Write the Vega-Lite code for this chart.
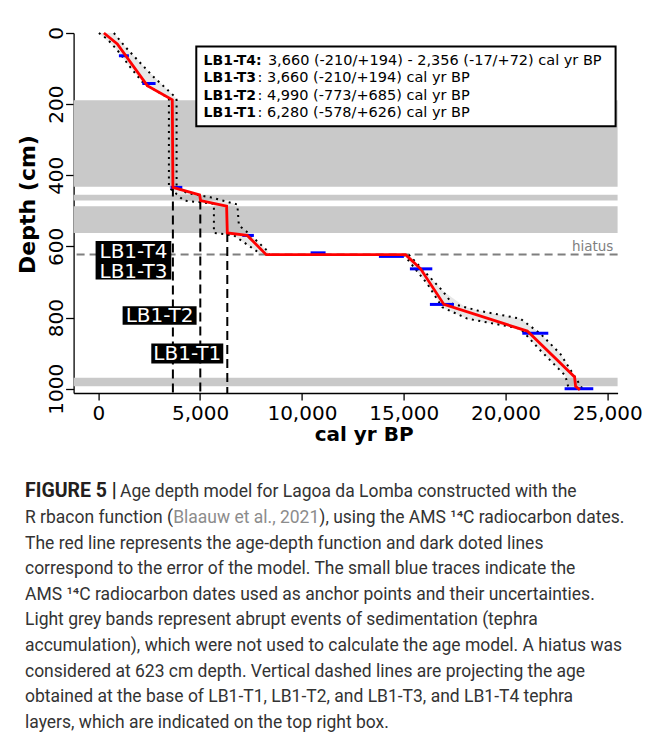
{
  "$schema": "https://vega.github.io/schema/vega-lite/v6.json",
  "background": "white",
  "padding": {"left": 16.6, "top": 26, "right": 0, "bottom": 0},
  "spacing": 32.5,
  "datasets": {
    "bands": [
      {"depth": 189, "depth2": 432},
      {"depth": 455, "depth2": 471},
      {"depth": 487, "depth2": 562},
      {"depth": 969, "depth2": 993}
    ],
    "envelope": [
      {"part": "upper", "depth": 0, "lo": 29, "hi": 766},
      {"part": "upper", "depth": 40, "lo": 806, "hi": 1341},
      {"part": "upper", "depth": 97, "lo": 1586, "hi": 2275},
      {"part": "upper", "depth": 143, "lo": 2240, "hi": 3084},
      {"part": "upper", "depth": 183, "lo": 3468, "hi": 3811},
      {"part": "upper", "depth": 434, "lo": 3468, "hi": 3846},
      {"part": "upper", "depth": 450, "lo": 3786, "hi": 4371},
      {"part": "upper", "depth": 471, "lo": 4204, "hi": 6106},
      {"part": "upper", "depth": 480, "lo": 5678, "hi": 6696},
      {"part": "upper", "depth": 541, "lo": 5678, "hi": 6906},
      {"part": "upper", "depth": 562, "lo": 5678, "hi": 7350},
      {"part": "upper", "depth": 569, "lo": 6660, "hi": 7488},
      {"part": "upper", "depth": 612, "lo": 7748, "hi": 8301},
      {"part": "upper", "depth": 621, "lo": 7976, "hi": 8390},
      {"part": "lower", "depth": 623, "lo": 15000, "hi": 15250},
      {"part": "lower", "depth": 682, "lo": 15830, "hi": 16211},
      {"part": "lower", "depth": 724, "lo": 16371, "hi": 16896},
      {"part": "lower", "depth": 771, "lo": 16896, "hi": 18033},
      {"part": "lower", "depth": 780, "lo": 17241, "hi": 18615},
      {"part": "lower", "depth": 803, "lo": 18124, "hi": 20727},
      {"part": "lower", "depth": 831, "lo": 20727, "hi": 21382},
      {"part": "lower", "depth": 845, "lo": 20952, "hi": 21709},
      {"part": "lower", "depth": 892, "lo": 21709, "hi": 22520},
      {"part": "lower", "depth": 902, "lo": 21882, "hi": 22692},
      {"part": "lower", "depth": 963, "lo": 22937, "hi": 23369},
      {"part": "lower", "depth": 998, "lo": 23099, "hi": 23758}
    ],
    "model": [
      {"series": "mean", "i": 0, "age": 275, "depth": 0},
      {"series": "mean", "i": 1, "age": 933, "depth": 31},
      {"series": "mean", "i": 2, "age": 2407, "depth": 148},
      {"series": "mean", "i": 3, "age": 3635, "depth": 188},
      {"series": "mean", "i": 4, "age": 3664, "depth": 434},
      {"series": "mean", "i": 5, "age": 4975, "depth": 455},
      {"series": "mean", "i": 6, "age": 5025, "depth": 471},
      {"series": "mean", "i": 7, "age": 6302, "depth": 487},
      {"series": "mean", "i": 8, "age": 6336, "depth": 562},
      {"series": "mean", "i": 9, "age": 7318, "depth": 569},
      {"series": "mean", "i": 10, "age": 8251, "depth": 623},
      {"series": "mean", "i": 11, "age": 15093, "depth": 623},
      {"series": "mean", "i": 12, "age": 15830, "depth": 663},
      {"series": "mean", "i": 13, "age": 16974, "depth": 763},
      {"series": "mean", "i": 14, "age": 21071, "depth": 838},
      {"series": "mean", "i": 15, "age": 23394, "depth": 967},
      {"series": "mean", "i": 16, "age": 23443, "depth": 993},
      {"series": "mean", "i": 17, "age": 23654, "depth": 1003},
      {"series": "min1", "i": 0, "age": 29, "depth": 0},
      {"series": "min1", "i": 1, "age": 442, "depth": 17},
      {"series": "min1", "i": 2, "age": 933, "depth": 48},
      {"series": "min1", "i": 3, "age": 1586, "depth": 97},
      {"series": "min1", "i": 4, "age": 2240, "depth": 143},
      {"series": "min1", "i": 5, "age": 3468, "depth": 183},
      {"series": "min1", "i": 6, "age": 3468, "depth": 434},
      {"series": "min1", "i": 7, "age": 4204, "depth": 471},
      {"series": "min1", "i": 8, "age": 5678, "depth": 480},
      {"series": "min1", "i": 9, "age": 5678, "depth": 562},
      {"series": "min1", "i": 10, "age": 6660, "depth": 569},
      {"series": "min1", "i": 11, "age": 7976, "depth": 621},
      {"series": "max1", "i": 0, "age": 766, "depth": 0},
      {"series": "max1", "i": 1, "age": 1341, "depth": 40},
      {"series": "max1", "i": 2, "age": 2652, "depth": 120},
      {"series": "max1", "i": 3, "age": 3797, "depth": 181},
      {"series": "max1", "i": 4, "age": 3846, "depth": 188},
      {"series": "max1", "i": 5, "age": 3846, "depth": 434},
      {"series": "max1", "i": 6, "age": 4371, "depth": 450},
      {"series": "max1", "i": 7, "age": 5516, "depth": 462},
      {"series": "max1", "i": 8, "age": 6827, "depth": 482},
      {"series": "max1", "i": 9, "age": 6906, "depth": 541},
      {"series": "max1", "i": 10, "age": 7318, "depth": 560},
      {"series": "max1", "i": 11, "age": 8301, "depth": 612},
      {"series": "max1", "i": 12, "age": 8400, "depth": 623},
      {"series": "min2", "i": 0, "age": 15000, "depth": 623},
      {"series": "min2", "i": 1, "age": 15830, "depth": 682},
      {"series": "min2", "i": 2, "age": 16159, "depth": 705},
      {"series": "min2", "i": 3, "age": 16896, "depth": 771},
      {"series": "min2", "i": 4, "age": 18124, "depth": 803},
      {"series": "min2", "i": 5, "age": 20727, "depth": 831},
      {"series": "min2", "i": 6, "age": 21709, "depth": 892},
      {"series": "min2", "i": 7, "age": 22937, "depth": 963},
      {"series": "min2", "i": 8, "age": 23099, "depth": 998},
      {"series": "max2", "i": 0, "age": 15250, "depth": 623},
      {"series": "max2", "i": 1, "age": 16896, "depth": 724},
      {"series": "max2", "i": 2, "age": 17387, "depth": 761},
      {"series": "max2", "i": 3, "age": 18615, "depth": 780},
      {"series": "max2", "i": 4, "age": 20727, "depth": 803},
      {"series": "max2", "i": 5, "age": 21709, "depth": 845},
      {"series": "max2", "i": 6, "age": 22692, "depth": 902},
      {"series": "max2", "i": 7, "age": 23758, "depth": 998}
    ],
    "dates": [
      {"age": 1012, "age2": 1503, "depth": 64},
      {"age": 2161, "age2": 2814, "depth": 142},
      {"age": 3551, "age2": 4126, "depth": 434},
      {"age": 7073, "age2": 7642, "depth": 569},
      {"age": 10427, "age2": 11164, "depth": 618},
      {"age": 13782, "age2": 15010, "depth": 628},
      {"age": 15305, "age2": 16405, "depth": 663},
      {"age": 16287, "age2": 17466, "depth": 763},
      {"age": 20825, "age2": 22102, "depth": 844},
      {"age": 22903, "age2": 24312, "depth": 1000}
    ],
    "tephra": [
      {"name": "LB1-T4/T3", "age": 3664, "depth": 434, "depth2": 1012},
      {"name": "LB1-T2", "age": 5010, "depth": 471, "depth2": 1012},
      {"name": "LB1-T1", "age": 6336, "depth": 562, "depth2": 1012}
    ],
    "tephraBoxes": [
      {"age": -133, "age2": 3585, "depth": 585, "depth2": 693},
      {"age": 1194, "age2": 4828, "depth": 768, "depth2": 820},
      {"age": 2603, "age2": 6139, "depth": 873, "depth2": 929}
    ],
    "tephraLabels": [
      {"age": 1726, "depth": 617, "text": "LB1-T4"},
      {"age": 1726, "depth": 671, "text": "LB1-T3"},
      {"age": 3011, "depth": 795, "text": "LB1-T2"},
      {"age": 4371, "depth": 902, "text": "LB1-T1"}
    ],
    "legendBox": [
      {"age": 4813, "age2": 25408, "depth": 37.6, "depth2": 262.4}
    ],
    "legendKeys": [
      {"age": 5172, "depth": 89, "text": "LB1-T4:"},
      {"age": 5172, "depth": 138.8, "text": "LB1-T3"},
      {"age": 5172, "depth": 187.4, "text": "LB1-T2"},
      {"age": 5172, "depth": 236, "text": "LB1-T1"}
    ],
    "legendValues": [
      {"age": 8330, "depth": 89, "text": "3,660 (-210/+194) - 2,356 (-17/+72) cal yr BP"},
      {"age": 7820, "depth": 138.8, "text": ": 3,660 (-210/+194) cal yr BP"},
      {"age": 7820, "depth": 187.4, "text": ": 4,990 (-773/+685) cal yr BP"},
      {"age": 7820, "depth": 236, "text": ": 6,280 (-578/+626) cal yr BP"}
    ],
    "hiatus": [
      {"age": 25295, "depth": 623, "labelDepth": 613.5, "text": "hiatus"}
    ],
    "caption": [
      {"part": "label", "line": 0, "text": "FIGURE 5 |"},
      {"part": "lead", "line": 0, "text": "Age depth model for Lagoa da Lomba constructed with the"},
      {"part": "body", "line": 1, "text": "R rbacon function ("},
      {"part": "citation", "line": 1, "text": "Blaauw et al., 2021"},
      {"part": "after", "line": 1, "text": "), using the AMS ¹⁴C radiocarbon dates."},
      {"part": "body", "line": 2, "text": "The red line represents the age-depth function and dark doted lines"},
      {"part": "body", "line": 3, "text": "correspond to the error of the model. The small blue traces indicate the"},
      {"part": "body", "line": 4, "text": "AMS ¹⁴C radiocarbon dates used as anchor points and their uncertainties."},
      {"part": "body", "line": 5, "text": "Light grey bands represent abrupt events of sedimentation (tephra"},
      {"part": "body", "line": 6, "text": "accumulation), which were not used to calculate the age model. A hiatus was"},
      {"part": "body", "line": 7, "text": "considered at 623 cm depth. Vertical dashed lines are projecting the age"},
      {"part": "body", "line": 8, "text": "obtained at the base of LB1-T1, LB1-T2, and LB1-T3, and LB1-T4 tephra"},
      {"part": "body", "line": 9, "text": "layers, which are indicated on the top right box."}
    ]
  },
  "vconcat": [
    {
      "width": 544,
      "height": 360,
      "layer": [
        {
          "data": {"name": "bands"},
          "mark": {"type": "rect", "color": "#c9c9c9"},
          "encoding": {
            "y": {
              "field": "depth", "type": "quantitative",
              "scale": {"domain": [0, 1012], "reverse": true, "nice": false, "zero": false},
              "axis": {
                "title": "Depth (cm)",
                "values": [0, 200, 400, 600, 800, 1000],
                "format": "d",
                "tickSize": 8, "tickWidth": 1.3, "domainWidth": 1.3,
                "domainColor": "#000", "tickColor": "#000",
                "labelAngle": -90, "labelAlign": "center", "labelBaseline": "alphabetic",
                "labelPadding": 3, "labelFontSize": 20, "labelColor": "#000",
                "labelFlush": false, "labelOverlap": false,
                "titleFontSize": 22, "titleFontWeight": "bold", "titleColor": "#000",
                "titleAngle": -90, "titleAlign": "center", "titleBaseline": "alphabetic",
                "titleX": -39, "titleY": 171
              }
            },
            "y2": {"field": "depth2"}
          }
        },
        {
          "data": {"name": "envelope"},
          "mark": {"type": "area", "orient": "horizontal", "color": "#b0b0b0", "opacity": 0.3},
          "encoding": {
            "y": {"field": "depth", "type": "quantitative"},
            "x": {"field": "lo", "type": "quantitative"},
            "x2": {"field": "hi"},
            "detail": {"field": "part"}
          }
        },
        {
          "data": {"name": "hiatus"},
          "mark": {"type": "rule", "color": "#7f7f7f", "strokeWidth": 2, "strokeDash": [8, 5]},
          "encoding": {"y": {"field": "depth", "type": "quantitative"}}
        },
        {
          "data": {"name": "tephra"},
          "mark": {"type": "rule", "color": "#000", "strokeWidth": 2, "strokeDash": [9, 5]},
          "encoding": {
            "x": {"field": "age", "type": "quantitative"},
            "y": {"field": "depth", "type": "quantitative"},
            "y2": {"field": "depth2"}
          }
        },
        {
          "data": {"name": "tephraBoxes"},
          "mark": {"type": "rect", "color": "#000"},
          "encoding": {
            "x": {"field": "age", "type": "quantitative"},
            "x2": {"field": "age2"},
            "y": {"field": "depth", "type": "quantitative"},
            "y2": {"field": "depth2"}
          }
        },
        {
          "data": {"name": "tephraLabels"},
          "mark": {"type": "text", "color": "#fff", "fontSize": 20, "font": "DejaVu Sans", "align": "center", "baseline": "middle"},
          "encoding": {
            "x": {"field": "age", "type": "quantitative"},
            "y": {"field": "depth", "type": "quantitative"},
            "text": {"field": "text"}
          }
        },
        {
          "data": {"name": "model"},
          "transform": [{"filter": "datum.series != 'mean'"}],
          "mark": {"type": "line", "color": "#000", "strokeWidth": 2, "strokeDash": [2, 4.5]},
          "encoding": {
            "x": {
              "field": "age", "type": "quantitative",
              "scale": {"domain": [-1213, 25506], "nice": false, "zero": false},
              "axis": {
                "title": "cal yr BP",
                "values": [0, 5000, 10000, 15000, 20000, 25000],
                "format": ",d",
                "tickSize": 7, "tickWidth": 1.3, "domainWidth": 1.3,
                "domainColor": "#000", "tickColor": "#000",
                "labelAlign": "center", "labelBaseline": "alphabetic", "labelPadding": 20,
                "labelFontSize": 20, "labelColor": "#000",
                "labelFlush": false, "labelOverlap": false,
                "titleFontSize": 20, "titleFontWeight": "bold", "titleColor": "#000",
                "titleAlign": "center", "titleBaseline": "alphabetic",
                "titleX": 290, "titleY": 48
              }
            },
            "y": {"field": "depth", "type": "quantitative"},
            "detail": {"field": "series"},
            "order": {"field": "i"}
          }
        },
        {
          "data": {"name": "dates"},
          "mark": {"type": "rule", "color": "#0000ff", "strokeWidth": 3},
          "encoding": {
            "x": {"field": "age", "type": "quantitative"},
            "x2": {"field": "age2"},
            "y": {"field": "depth", "type": "quantitative"}
          }
        },
        {
          "data": {"name": "model"},
          "transform": [{"filter": "datum.series == 'mean'"}],
          "mark": {"type": "line", "color": "#ff0000", "strokeWidth": 2.8},
          "encoding": {
            "x": {"field": "age", "type": "quantitative"},
            "y": {"field": "depth", "type": "quantitative"},
            "order": {"field": "i"}
          }
        },
        {
          "data": {"name": "legendBox"},
          "mark": {"type": "rect", "fill": "#fff", "stroke": "#000", "strokeWidth": 2},
          "encoding": {
            "x": {"field": "age", "type": "quantitative"},
            "x2": {"field": "age2"},
            "y": {"field": "depth", "type": "quantitative"},
            "y2": {"field": "depth2"}
          }
        },
        {
          "data": {"name": "legendKeys"},
          "mark": {"type": "text", "color": "#000", "fontSize": 14, "fontWeight": "bold", "font": "DejaVu Sans", "align": "left", "baseline": "alphabetic"},
          "encoding": {
            "x": {"field": "age", "type": "quantitative"},
            "y": {"field": "depth", "type": "quantitative"},
            "text": {"field": "text"}
          }
        },
        {
          "data": {"name": "legendValues"},
          "mark": {"type": "text", "color": "#000", "fontSize": 14.5, "font": "DejaVu Sans", "align": "left", "baseline": "alphabetic"},
          "encoding": {
            "x": {"field": "age", "type": "quantitative"},
            "y": {"field": "depth", "type": "quantitative"},
            "text": {"field": "text"}
          }
        },
        {
          "data": {"name": "hiatus"},
          "mark": {"type": "text", "color": "#808080", "fontSize": 13.5, "font": "DejaVu Sans", "align": "right", "baseline": "alphabetic"},
          "encoding": {
            "x": {"field": "age", "type": "quantitative"},
            "y": {"field": "labelDepth", "type": "quantitative"},
            "text": {"field": "text"}
          }
        }
      ]
    },
    {
      "width": 560,
      "height": 258,
      "data": {"name": "caption"},
      "encoding": {
        "y": {"field": "line", "type": "quantitative", "scale": {"domain": [-0.775, 9.3], "reverse": true, "nice": false, "zero": false}, "axis": null},
        "text": {"field": "text"}
      },
      "layer": [
        {
          "transform": [{"filter": "datum.part == 'label'"}],
          "mark": {"type": "text", "font": "Roboto", "fontWeight": "bold", "fontSize": 19.5, "color": "#231f20", "align": "left", "baseline": "alphabetic"},
          "encoding": {"x": {"value": -48.6}}
        },
        {
          "transform": [{"filter": "datum.part == 'lead'"}],
          "mark": {"type": "text", "font": "Roboto", "fontSize": 17.5, "color": "#333333", "align": "left", "baseline": "alphabetic"},
          "encoding": {"x": {"value": 46.4}}
        },
        {
          "transform": [{"filter": "datum.part == 'body'"}],
          "mark": {"type": "text", "font": "Roboto", "fontSize": 17.5, "color": "#333333", "align": "left", "baseline": "alphabetic"},
          "encoding": {"x": {"value": -48.6}}
        },
        {
          "transform": [{"filter": "datum.part == 'citation'"}],
          "mark": {"type": "text", "font": "Roboto", "fontSize": 17.5, "color": "#8c8c8c", "align": "left", "baseline": "alphabetic"},
          "encoding": {"x": {"value": 99.6}}
        },
        {
          "transform": [{"filter": "datum.part == 'after'"}],
          "mark": {"type": "text", "font": "Roboto", "fontSize": 17.5, "color": "#333333", "align": "left", "baseline": "alphabetic"},
          "encoding": {"x": {"value": 245.7}}
        }
      ]
    }
  ],
  "config": {
    "view": {"stroke": null},
    "font": "DejaVu Sans",
    "axis": {"grid": false}
  }
}
